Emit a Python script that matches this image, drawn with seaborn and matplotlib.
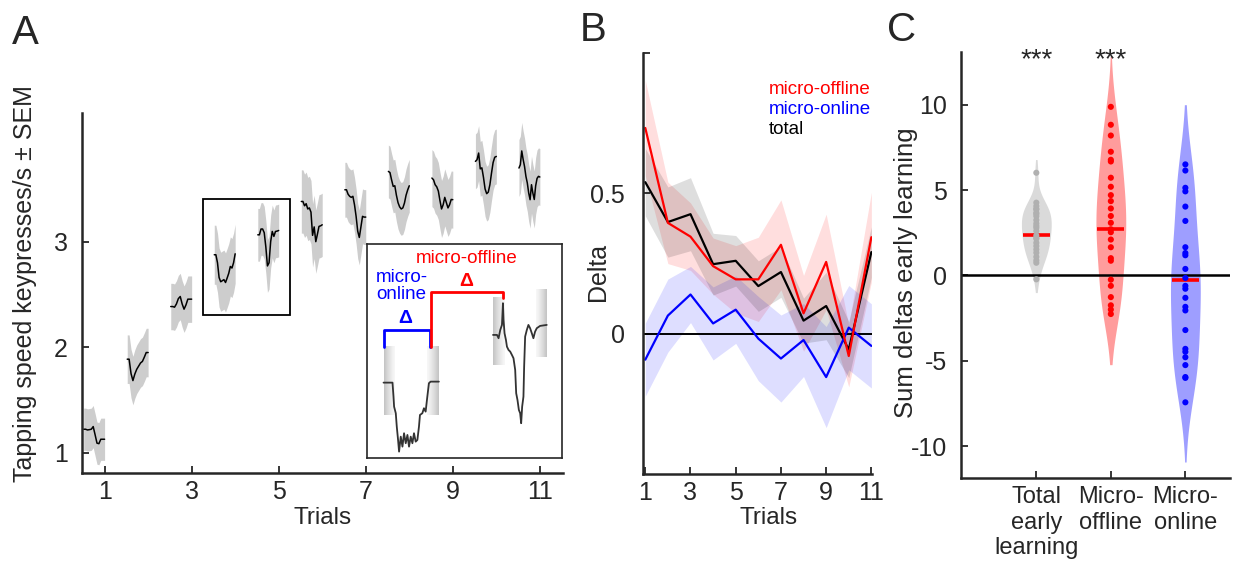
import numpy as np
import pandas as pd
import seaborn as sns
import matplotlib.pyplot as plt
from matplotlib.lines import Line2D
from matplotlib.patches import Rectangle

# ---------------- panel A : tapping speed within each trial ----------------
trials = list(range(1, 12))
speed_traces = [
    [1.222, 1.222, 1.215, 1.218, 1.222, 1.247, 1.17, 1.09, 1.085, 1.127, 1.127, 1.127],
    [1.886, 1.886, 1.75, 1.683, 1.745, 1.79, 1.82, 1.85, 1.865, 1.905, 1.949, 1.949],
    [2.385, 2.385, 2.379, 2.41, 2.46, 2.48, 2.41, 2.36, 2.40, 2.455, 2.455, 2.455],
    [2.876, 2.876, 2.80, 2.66, 2.62, 2.63, 2.64, 2.613, 2.655, 2.70, 2.765, 2.75, 2.80, 2.885],
    [3.065, 3.065, 3.12, 3.12, 3.085, 2.95, 2.77, 2.80, 3.0, 3.097, 3.05, 3.097, 3.10, 3.106],
    [3.381, 3.381, 3.34, 3.36, 3.31, 3.32, 3.28, 3.06, 3.14, 3.00, 3.07, 3.145, 3.15, 3.16],
    [3.492, 3.492, 3.45, 3.43, 3.42, 3.43, 3.35, 3.24, 3.10, 3.04, 3.14, 3.24, 3.233, 3.233],
    [3.666, 3.655, 3.585, 3.524, 3.53, 3.44, 3.37, 3.33, 3.31, 3.32, 3.366, 3.44, 3.49, 3.53],
    [3.603, 3.587, 3.54, 3.52, 3.48, 3.39, 3.31, 3.35, 3.42, 3.37, 3.32, 3.35, 3.40, 3.398],
    [3.761, 3.777, 3.84, 3.69, 3.70, 3.61, 3.50, 3.455, 3.47, 3.54, 3.65, 3.75, 3.80, 3.808],
    [3.698, 3.73, 3.86, 3.78, 3.713, 3.619, 3.556, 3.461, 3.398, 3.54, 3.46, 3.40, 3.53, 3.60, 3.619, 3.613],
]
speed_sem = [0.2, 0.23, 0.22, 0.28, 0.25, 0.3, 0.26, 0.25, 0.27, 0.26, 0.27]

# inset schematic (arbitrary units)
inset_left_t = [16.7, 25.7, 26.7, 27.3, 29, 30, 31.3, 32.3, 34, 35.7, 37.3, 39, 40.7, 42.3, 44,
                45.7, 47.3, 49, 50.7, 52.3, 53.3, 55.7, 57.3, 59, 60.7, 62.3, 64, 72.3]
inset_left_s = [75.3, 75.3, 61.3, 51.3, 44.7, 31.3, 18, 6.3, 21.3, 11.3, 24.7, 14.7, 23, 11.3, 21.3,
                14.7, 24.7, 16.3, 18, 31.3, 43, 44.7, 49.7, 46.3, 61.3, 74.7, 76.3, 76.3]
inset_right_t = [126.7, 130.7, 132.3, 134, 135.7, 136.7, 137.3, 138.3, 139.7, 140.7, 142.3, 144,
                 145.7, 147.3, 149, 150, 151.3, 152.7, 154, 155, 156, 157.3, 158, 159, 160.7, 162.3,
                 164, 165.7, 167.3, 169, 170.7, 174, 180.7]
inset_right_s = [123, 123, 119.7, 128, 133, 154.7, 138, 124.7, 118, 111.3, 108, 106.3, 103, 99.7,
                 88, 64.7, 58, 48, 44.7, 34.7, 51.3, 61.3, 91.3, 121.3, 128, 133, 129.7, 124.7,
                 119.7, 126.3, 129.7, 132, 133]
# start / end windows: t0, t1, s0, s1
inset_windows = [(16.7, 27.3, 43, 111.3), (60.7, 72.3, 43, 111.3),
                 (126.7, 138, 93, 160.7), (169.7, 180.7, 100.7, 168)]
bracket_online = ([17.3, 17.3, 63, 63], [111.3, 128, 128, 111.3])
bracket_offline = ([64, 64, 136.3, 136.3], [111.3, 166.3, 166.3, 159.7])

# ---------------- panel B : deltas per trial ----------------
delta_offline = [0.732, 0.394, 0.345, 0.240, 0.193, 0.193, 0.316, 0.072, 0.255, -0.080, 0.343]
delta_online = [-0.093, 0.064, 0.139, 0.036, 0.085, -0.018, -0.089, -0.023, -0.155, 0.021, -0.044]
delta_total = [0.539, 0.397, 0.425, 0.247, 0.259, 0.169, 0.219, 0.046, 0.098, -0.057, 0.290]
sem_offline = [0.17, 0.145, 0.12, 0.1, 0.12, 0.15, 0.16, 0.135, 0.17, 0.11, 0.16]
sem_online = [0.13, 0.13, 0.1, 0.13, 0.12, 0.15, 0.155, 0.13, 0.18, 0.15, 0.15]
sem_total = [0.12, 0.125, 0.13, 0.11, 0.09, 0.09, 0.09, 0.08, 0.12, 0.1, 0.09]
series_names = ['micro-offline', 'micro-online', 'total']

# ---------------- panel C : summed deltas early learning ----------------
sum_total = [6.01, 4.26, 4.06, 3.9, 3.86, 3.67, 3.6, 3.47, 3.24, 3.04, 2.9, 2.79, 2.6, 2.34,
             2.2, 2.15, 1.91, 1.72, 1.52, 1.33, 1.09, 0.88, 0.74, -0.23]
sum_offline = [9.87, 8.82, 8.19, 7.24, 6.77, 6.67, 5.72, 5.19, 4.70, 4.35, 3.92, 3.48, 3.08,
               2.70, 2.53, 2.10, 1.65, 1.01, 0.86, -0.25, -0.61, -1.27, -1.75, -2.0, -2.26]
sum_online = [6.5, 6.14, 5.13, 4.92, 4.03, 3.19, 1.65, 1.31, 1.18, 0.38, -0.15, -0.61, -0.78,
              -1.31, -1.84, -2.05, -3.2, -4.3, -4.47, -4.79, -5.25, -5.95, -6.0, -7.43]
sum_centre = [2.38, 2.74, -0.25]
group_labels = ['Total\nearly\nlearning', 'Micro-\noffline', 'Micro-\nonline']
stars = ['***', '***', '']


def style_axis(ax):
    sns.despine(ax=ax)
    for s in ['left', 'bottom']:
        ax.spines[s].set_linewidth(1.8)
    ax.tick_params(direction='in', length=5, width=1.3, labelsize=18)
    ax.tick_params(axis='x', pad=5)
    ax.tick_params(axis='y', pad=10)


def draw_panel_a(ax):
    rows = []
    for tr, vals, se in zip(trials, speed_traces, speed_sem):
        pos = np.linspace(tr - 0.48, tr, len(vals))
        for p, v in zip(pos, vals):
            rows.append({'trial': tr, 'pos': p, 'speed': v, 'sem': se})
    df = pd.DataFrame(rows)
    for tr, g in df.groupby('trial'):
        ax.fill_between(g['pos'], g['speed'] - g['sem'], g['speed'] + g['sem'],
                        color='#cdcdcd', lw=0)
    sns.lineplot(data=df, x='pos', y='speed', units='trial', estimator=None,
                 color='k', lw=1.1, ax=ax, legend=False)

    # box around trials 4-5
    g = df[df['trial'].isin([4, 5])]
    x0, x1 = g['pos'].min() - 0.26, g['pos'].max() + 0.26
    y0 = (g['speed'] - g['sem']).min() - 0.03
    y1 = (g['speed'] + g['sem']).max() + 0.03
    ax.add_patch(Rectangle((x0, y0), x1 - x0, y1 - y0, fill=False, ec='k', lw=1.3))

    ax.set_xlim(0.48, 11.53)
    ax.set_ylim(0.81, 4.22)
    ax.set_xticks([1, 3, 5, 7, 9, 11])
    ax.set_yticks([1, 2, 3])
    style_axis(ax)
    ax.set_xlabel('Trials', fontsize=17.5)
    ax.set_ylabel('Tapping speed keypresses/s \u00b1 SEM', fontsize=18)
    ax.xaxis.set_label_coords(0.5, -0.095)
    ax.yaxis.set_label_coords(-0.094, 0.525)

    # inset schematic
    ins = ax.inset_axes([0.5925, 0.041, 0.4055, 0.595])
    for i, (t0, t1, s0, s1) in enumerate(inset_windows):
        grad = np.linspace(0.35, 0.06, 40) if i % 2 == 0 else np.linspace(0.06, 0.35, 40)
        ins.imshow(grad.reshape(1, -1), extent=[t0, t1, s0, s1], cmap='Greys',
                   vmin=0, vmax=1, aspect='auto', zorder=1)
    sns.lineplot(x=inset_left_t, y=inset_left_s, color='0.2', lw=1.3, ax=ins, sort=False)
    sns.lineplot(x=inset_right_t, y=inset_right_s, color='0.2', lw=1.3, ax=ins, sort=False)
    ins.plot(*bracket_online, color='b', lw=2)
    ins.plot(*bracket_offline, color='r', lw=2)
    ins.text(38.3, 139.7, '\u0394', color='b', fontsize=14, fontweight='bold',
             ha='center', va='center')
    ins.text(100, 176.3, '\u0394', color='r', fontsize=14, fontweight='bold',
             ha='center', va='center')
    ins.text(100.3, 199.7, 'micro-offline', color='r', fontsize=13.5, ha='center', va='center')
    ins.text(9, 172, 'micro-\nonline', color='b', fontsize=13.5, ha='left', va='center',
             linespacing=0.95)
    ins.set_xlim(0, 196)
    ins.set_ylim(0, 214)
    ins.set_xticks([])
    ins.set_yticks([])
    ins.set_xlabel('')
    ins.set_ylabel('')
    for s in ins.spines.values():
        s.set_visible(True)
        s.set_linewidth(1.2)


def draw_panel_b(ax):
    df = pd.DataFrame({
        'trial': trials * 3,
        'delta': delta_offline + delta_online + delta_total,
        'sem': sem_offline + sem_online + sem_total,
        'series': [n for n in series_names for _ in trials],
    })
    line_col = {'micro-offline': 'red', 'micro-online': 'blue', 'total': 'black'}
    for name, g in df.groupby('series'):
        ax.fill_between(g['trial'], g['delta'] - g['sem'], g['delta'] + g['sem'],
                        color=line_col[name], alpha=0.13, lw=0)
    ax.axhline(0, color='k', lw=1.4)
    sns.lineplot(data=df, x='trial', y='delta', hue='series', hue_order=series_names[::-1],
                 palette=line_col, lw=1.6, ax=ax, legend=False, errorbar=None)
    handles = [Line2D([], [], color=line_col[n]) for n in series_names]
    ax.legend(handles, series_names, labelcolor='linecolor', handlelength=0,
              handletextpad=0, frameon=False, loc='upper left', fontsize=13.5,
              bbox_to_anchor=(0.515, 0.95), labelspacing=0.15, borderaxespad=0)
    ax.set_xlim(0.9, 11.03)
    ax.set_ylim(-0.5, 1.0)
    ax.set_xticks([1, 3, 5, 7, 9, 11])
    ax.set_yticks([0, 0.5])
    ax.set_yticklabels(['0', '0.5'])
    ax.set_yticks([1.0], minor=True)
    style_axis(ax)
    ax.tick_params(axis='y', pad=13)
    ax.tick_params(which='minor', direction='in', length=5, width=1.3)
    ax.set_xlabel('Trials', fontsize=17.5)
    ax.set_ylabel('Delta', fontsize=18)
    ax.xaxis.set_label_coords(0.55, -0.078)
    ax.yaxis.set_label_coords(-0.144, 0.48)


def draw_panel_c(ax):
    df = pd.DataFrame({
        'group': [group_labels[0]] * len(sum_total) + [group_labels[1]] * len(sum_offline)
                 + [group_labels[2]] * len(sum_online),
        'value': sum_total + sum_offline + sum_online,
    })
    violin_col = ['#dadada', '#ff9c9c', '#9e9eff']
    point_col = ['#b0b0b0', '#ff0000', '#0000ff']
    cuts = [1.05, 1.6, 1.6]
    for i, grp in enumerate(group_labels):
        sns.violinplot(data=df[df['group'] == grp], x='group', y='value', order=group_labels,
                       color=violin_col[i], saturation=1, inner=None, cut=cuts[i],
                       width=0.4, density_norm='width', linewidth=0, ax=ax)
    ax.axhline(0, color='k', lw=1.8, zorder=2)
    for i, c in enumerate(sum_centre):
        ax.hlines(c, i - 0.18, i + 0.18, color='r', lw=2.6, zorder=3)
    sns.stripplot(data=df, x='group', y='value', order=group_labels, hue='group',
                  hue_order=group_labels, palette=point_col, jitter=False, size=4.4,
                  linewidth=0, ax=ax, legend=False, zorder=4)
    for i, s in enumerate(stars):
        ax.text(i, 12.6, s, ha='center', va='center', fontsize=20)
    ax.set_xlim(-1.01, 2.6)
    ax.set_ylim(-11.86, 13.08)
    ax.set_yticks([-10, -5, 0, 5, 10])
    style_axis(ax)
    ax.tick_params(axis='x', labelsize=17, pad=6)
    ax.set_xlabel('')
    ax.set_ylabel('Sum deltas early learning', fontsize=18.5)
    ax.yaxis.set_label_coords(-0.16, 0.482)


def main():
    sns.set_style('ticks')
    plt.rcParams['font.family'] = ['Liberation Sans', 'DejaVu Sans']
    plt.rcParams['axes.unicode_minus'] = False

    fig = plt.figure(figsize=(12.38, 5.64), dpi=100)
    ax_a = fig.add_axes([0.0662, 0.1619, 0.3885, 0.6378])
    ax_b = fig.add_axes([0.5194, 0.1596, 0.185, 0.747])
    ax_c = fig.add_axes([0.7763, 0.1525, 0.2173, 0.7553])

    draw_panel_a(ax_a)
    draw_panel_b(ax_b)
    draw_panel_c(ax_c)

    fig.text(12 / 1238, 1 - 44 / 564, 'A', fontsize=29, va='baseline')
    fig.text(580 / 1238, 1 - 41 / 564, 'B', fontsize=29, va='baseline')
    fig.text(887 / 1238, 1 - 41 / 564, 'C', fontsize=29, va='baseline')

    fig.savefig('out.png', dpi=100)


if __name__ == '__main__':
    main()
